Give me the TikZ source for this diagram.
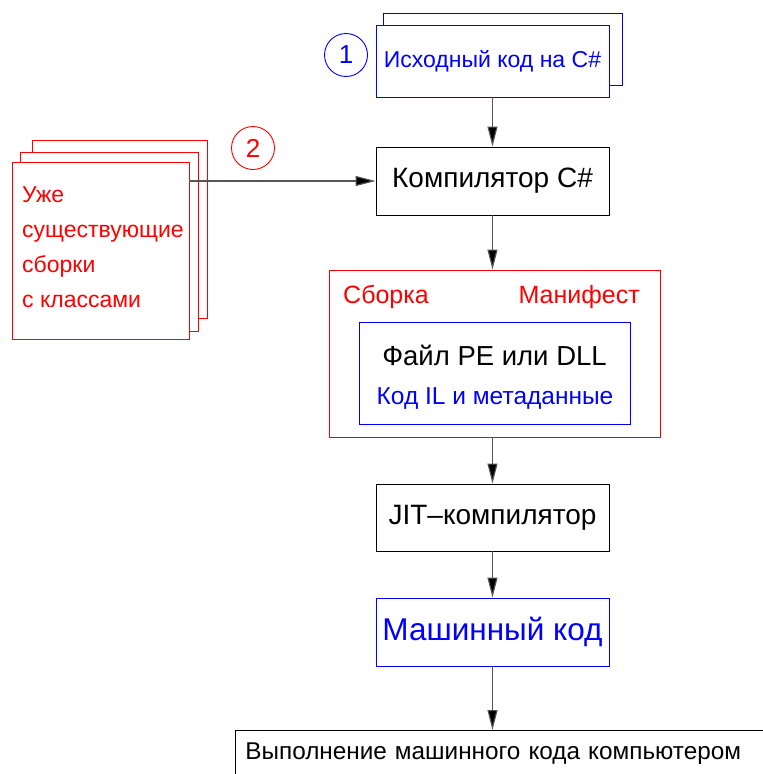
\documentclass[tikz,border=0pt]{standalone}
\usepackage{fontspec}
\setmainfont{Liberation Sans}
\usetikzlibrary{arrows.meta}
\definecolor{cadred}{HTML}{FF0000}
\definecolor{cadblue}{HTML}{0000FF}
\definecolor{cadline}{HTML}{555555}

\begin{document}
\begin{tikzpicture}[x=1pt, y=-1pt,
    box/.style={draw, line width=0.9pt, fill=white, inner sep=0pt,
                minimum width=233, minimum height=68},
    sheet/.style={draw=cadred, line width=0.9pt, fill=white, inner sep=0pt},
    num/.style={circle, draw, line width=0.9pt, minimum size=43, inner sep=0pt,
                font=\fontsize{26}{28}\selectfont},
    flow/.style={draw=cadline, line width=1.1pt,
                 -{Triangle[length=20pt, width=10pt, fill=black]}}
  ]
    \useasboundingbox (0,0) rectangle (763,774);
    \clip (0,0) rectangle (763,774);

    % source code
    \node[box, draw=cadblue, minimum width=239, minimum height=72] (srcback) at (502.5,49) {};
    \node[box, draw=cadblue, minimum height=72, text=cadblue,
          font=\fontsize{23}{25}\selectfont] (source) at (492.5,61)
          {\raisebox{-5pt}{Исходный код на C\#}};
    \node[num, draw=cadblue, text=cadblue] (num1) at (346,55) {1};

    \node[box, font=\fontsize{28}{30}\selectfont] (compiler) at (492.5,181) {Компилятор C\#};

    % existing assemblies
    \node[sheet, minimum width=175, minimum height=178] (oldback) at (119.5,229) {};
    \node[sheet, minimum width=178, minimum height=179] (oldmid) at (109,241.5) {};
    \node[sheet, minimum width=177, minimum height=177] (oldfront) at (100.5,250.5) {};
    \node[anchor=west, align=left, inner sep=0pt, text=cadred,
          font=\fontsize{23}{35}\selectfont] (oldtext) at (22,247)
          {Уже\\существующие\\сборки\\с классами};
    \node[num, draw=cadred, text=cadred] (num2) at (253,148) {2};

    % assembly
    \node[box, draw=cadred, minimum width=331, minimum height=167] (assembly) at (494.5,353.5) {};
    \node[anchor=base west, inner sep=0pt, text=cadred,
          font=\fontsize{25}{27}\selectfont] (asmlabel) at (343,303) {Сборка};
    \node[anchor=base east, inner sep=0pt, text=cadred,
          font=\fontsize{25}{27}\selectfont] (manifest) at (640,303) {Манифест};
    \node[box, draw=cadblue, minimum width=271, minimum height=102] (pefile) at (494.5,373) {};
    \node[anchor=base, inner sep=0pt, font=\fontsize{27.5}{29}\selectfont] (petext) at (494.5,365)
          {Файл PE или DLL};
    \node[anchor=base, inner sep=0pt, text=cadblue, font=\fontsize{24.5}{26}\selectfont] (iltext)
          at (495,404) {Код IL и метаданные};

    \node[box, minimum height=67, font=\fontsize{28}{30}\selectfont] (jit) at (492.5,517.5)
          {JIT–компилятор};
    \node[box, draw=cadblue, text=cadblue, font=\fontsize{31.5}{33}\selectfont] (machine)
          at (492.5,632) {Машинный код};
    \node[box, anchor=north west, minimum width=600, minimum height=46, text width=580,
          inner xsep=10pt, align=left, font=\fontsize{24.3}{26}\selectfont] (exec) at (235,730)
          {Выполнение машинного кода компьютером};

    \draw[flow] (source) -- (compiler);
    \draw[flow] (oldfront.east |- compiler.west) -- (compiler.west);
    \draw[flow] (compiler.south) -- (compiler.south |- assembly.north);
    \draw[flow] (jit.north |- assembly.south) -- (jit.north);
    \draw[flow] (jit) -- (machine);
    \draw[flow] (machine.south) -- (machine.south |- exec.north);
  \end{tikzpicture}
\end{document}
